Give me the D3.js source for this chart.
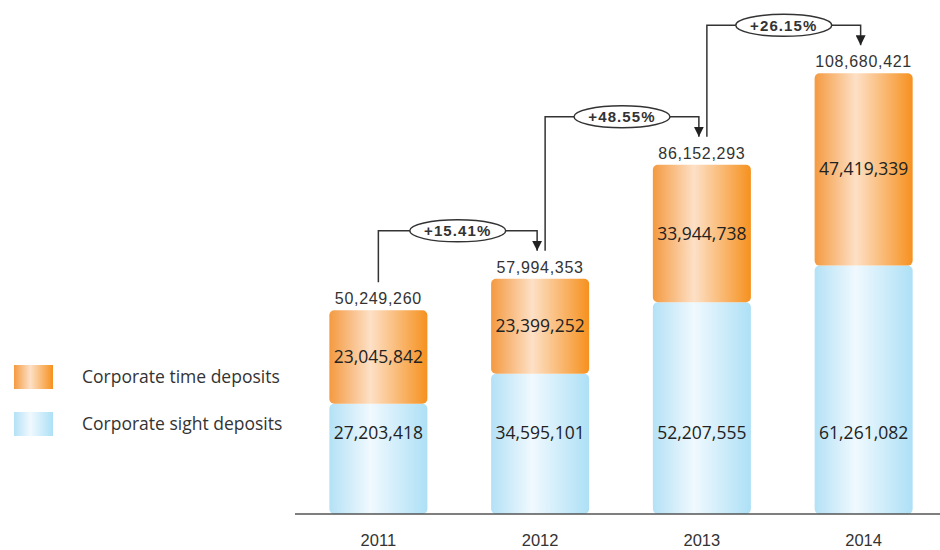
<!DOCTYPE html>
<html>
<head>
<meta charset="utf-8">
<script src="https://cdn.jsdelivr.net/npm/d3@7"></script>
<style>
  body { margin: 0; background: #fff; }
  svg { display: block; }
</style>
</head>
<body>
<svg id="chart" width="940" height="550"></svg>
<script>
var years = ['2011', '2012', '2013', '2014'];
var sightDeposits = [27203418, 34595101, 52207555, 61261082];
var timeDeposits = [23045842, 23399252, 33944738, 47419339];
var totals = [50249260, 57994353, 86152293, 108680421];
var growth = ['+15.41%', '+48.55%', '+26.15%'];
var legendLabels = ['Corporate time deposits', 'Corporate sight deposits'];

var svg = d3.select('#chart');
var fmt = d3.format(',');
var baseY = 514;

var x = d3.scaleBand()
  .domain(years)
  .range([297, 945])
  .paddingInner(0.394)
  .paddingOuter(0.2);

var y = d3.scaleLinear()
  .domain([0, 110000000])
  .range([baseY, 68]);

// gradients for the bars
var defs = svg.append('defs');
function addGradient(id, edgeL, mid, edgeR) {
  var g = defs.append('linearGradient')
    .attr('id', id)
    .attr('x1', '0%').attr('x2', '100%')
    .attr('y1', '0%').attr('y2', '0%');
  g.append('stop').attr('offset', '0%').attr('stop-color', edgeL);
  g.append('stop').attr('offset', '42%').attr('stop-color', mid);
  g.append('stop').attr('offset', '100%').attr('stop-color', edgeR);
}
addGradient('gradTime', '#f49a40', '#fde0c6', '#f6911f');
addGradient('gradSight', '#b4e1f6', '#f0f9fe', '#ade0f6');

var bars = svg.append('g');

// sight deposits (bottom segment)
bars.selectAll('rect.sight')
  .data(years)
  .enter().append('rect')
  .attr('class', 'sight')
  .attr('x', function(d) { return x(d); })
  .attr('width', x.bandwidth())
  .attr('y', function(d, i) { return y(sightDeposits[i]); })
  .attr('height', function(d, i) { return baseY - y(sightDeposits[i]); })
  .attr('rx', 5)
  .style('fill', 'url(#gradSight)');

// time deposits (top segment)
bars.selectAll('rect.time')
  .data(years)
  .enter().append('rect')
  .attr('class', 'time')
  .attr('x', function(d) { return x(d); })
  .attr('width', x.bandwidth())
  .attr('y', function(d, i) { return y(totals[i]); })
  .attr('height', function(d, i) { return y(sightDeposits[i]) - y(totals[i]); })
  .attr('rx', 5)
  .style('fill', 'url(#gradTime)');

// baseline
svg.append('line')
  .attr('x1', 295).attr('x2', 940)
  .attr('y1', baseY).attr('y2', baseY)
  .style('stroke', '#555')
  .style('stroke-width', 1.5);

function cx(d) { return x(d) + x.bandwidth() / 2; }

// year labels
svg.selectAll('text.year')
  .data(years)
  .enter().append('text')
  .attr('class', 'year')
  .attr('x', cx)
  .attr('y', 546)
  .attr('text-anchor', 'middle')
  .style('font-family', 'Liberation Sans, Arial, sans-serif')
  .style('font-size', '16.5px')
  .style('fill', '#333')
  .text(function(d) { return d; });

// totals above bars
svg.selectAll('text.total')
  .data(years)
  .enter().append('text')
  .attr('class', 'total')
  .attr('x', cx)
  .attr('y', function(d, i) { return y(totals[i]) - 6; })
  .attr('text-anchor', 'middle')
  .style('font-family', 'Liberation Sans, Arial, sans-serif')
  .style('font-size', '16px')
  .style('letter-spacing', '0.7px')
  .style('fill', '#333')
  .text(function(d, i) { return fmt(totals[i]); });

// values inside segments
svg.selectAll('text.timeVal')
  .data(years)
  .enter().append('text')
  .attr('class', 'timeVal')
  .attr('x', cx)
  .attr('y', function(d, i) { return (y(totals[i]) + y(sightDeposits[i])) / 2 + 6; })
  .attr('text-anchor', 'middle')
  .style('font-family', 'Open Sans, sans-serif')
  .style('font-size', '17.5px')
  .style('fill', '#222')
  .text(function(d, i) { return fmt(timeDeposits[i]); });

svg.selectAll('text.sightVal')
  .data(years)
  .enter().append('text')
  .attr('class', 'sightVal')
  .attr('x', cx)
  .attr('y', y(20000000) + 6)
  .attr('text-anchor', 'middle')
  .style('font-family', 'Open Sans, sans-serif')
  .style('font-size', '17.5px')
  .style('fill', '#222')
  .text(function(d, i) { return fmt(sightDeposits[i]); });

// growth connectors between bars
defs.append('marker')
  .attr('id', 'arrow')
  .attr('viewBox', '0 0 10 10')
  .attr('refX', 10).attr('refY', 5)
  .attr('markerWidth', 10).attr('markerHeight', 10)
  .attr('markerUnits', 'userSpaceOnUse')
  .attr('orient', 'auto')
  .append('path')
  .attr('d', 'M0,0 L10,5 L0,10 Z')
  .style('fill', '#222');

var conn = svg.append('g');
growth.forEach(function(label, i) {
  var x0 = cx(years[i]) + (i === 0 ? 0 : 5);
  var x1 = cx(years[i + 1]) - 3;
  var yStart = y(totals[i]) - 28;
  var yEnd = y(totals[i + 1]) - 28;
  var yTop = y(totals[i + 1]) - 48;

  conn.append('path')
    .attr('d', 'M' + x0 + ',' + yStart + 'V' + yTop + 'H' + x1 + 'V' + yEnd)
    .style('fill', 'none')
    .style('stroke', '#333')
    .style('stroke-width', 1.5)
    .attr('marker-end', 'url(#arrow)');

  var mx = (x0 + x1) / 2;
  conn.append('ellipse')
    .attr('cx', mx).attr('cy', yTop)
    .attr('rx', 48).attr('ry', 11)
    .style('fill', '#fff')
    .style('stroke', '#333')
    .style('stroke-width', 1.5);

  conn.append('text')
    .attr('x', mx).attr('y', yTop + 5.5)
    .attr('text-anchor', 'middle')
    .style('font-family', 'Liberation Sans, Arial, sans-serif')
    .style('font-size', '15px')
    .style('font-weight', 'bold')
    .style('letter-spacing', '1.1px')
    .style('fill', '#333')
    .text(label);
});

// legend
var legend = svg.append('g');
var legendFills = ['url(#gradTime)', 'url(#gradSight)'];
legendLabels.forEach(function(label, i) {
  var ly = 365 + i * 47;
  legend.append('rect')
    .attr('x', 14).attr('y', ly)
    .attr('width', 39).attr('height', 24)
    .style('fill', legendFills[i]);
  legend.append('text')
    .attr('x', 82).attr('y', ly + 18)
    .style('font-family', 'Open Sans, sans-serif')
    .style('font-size', '17.5px')
    .style('fill', '#333')
    .text(label);
});
</script>
</body>
</html>
